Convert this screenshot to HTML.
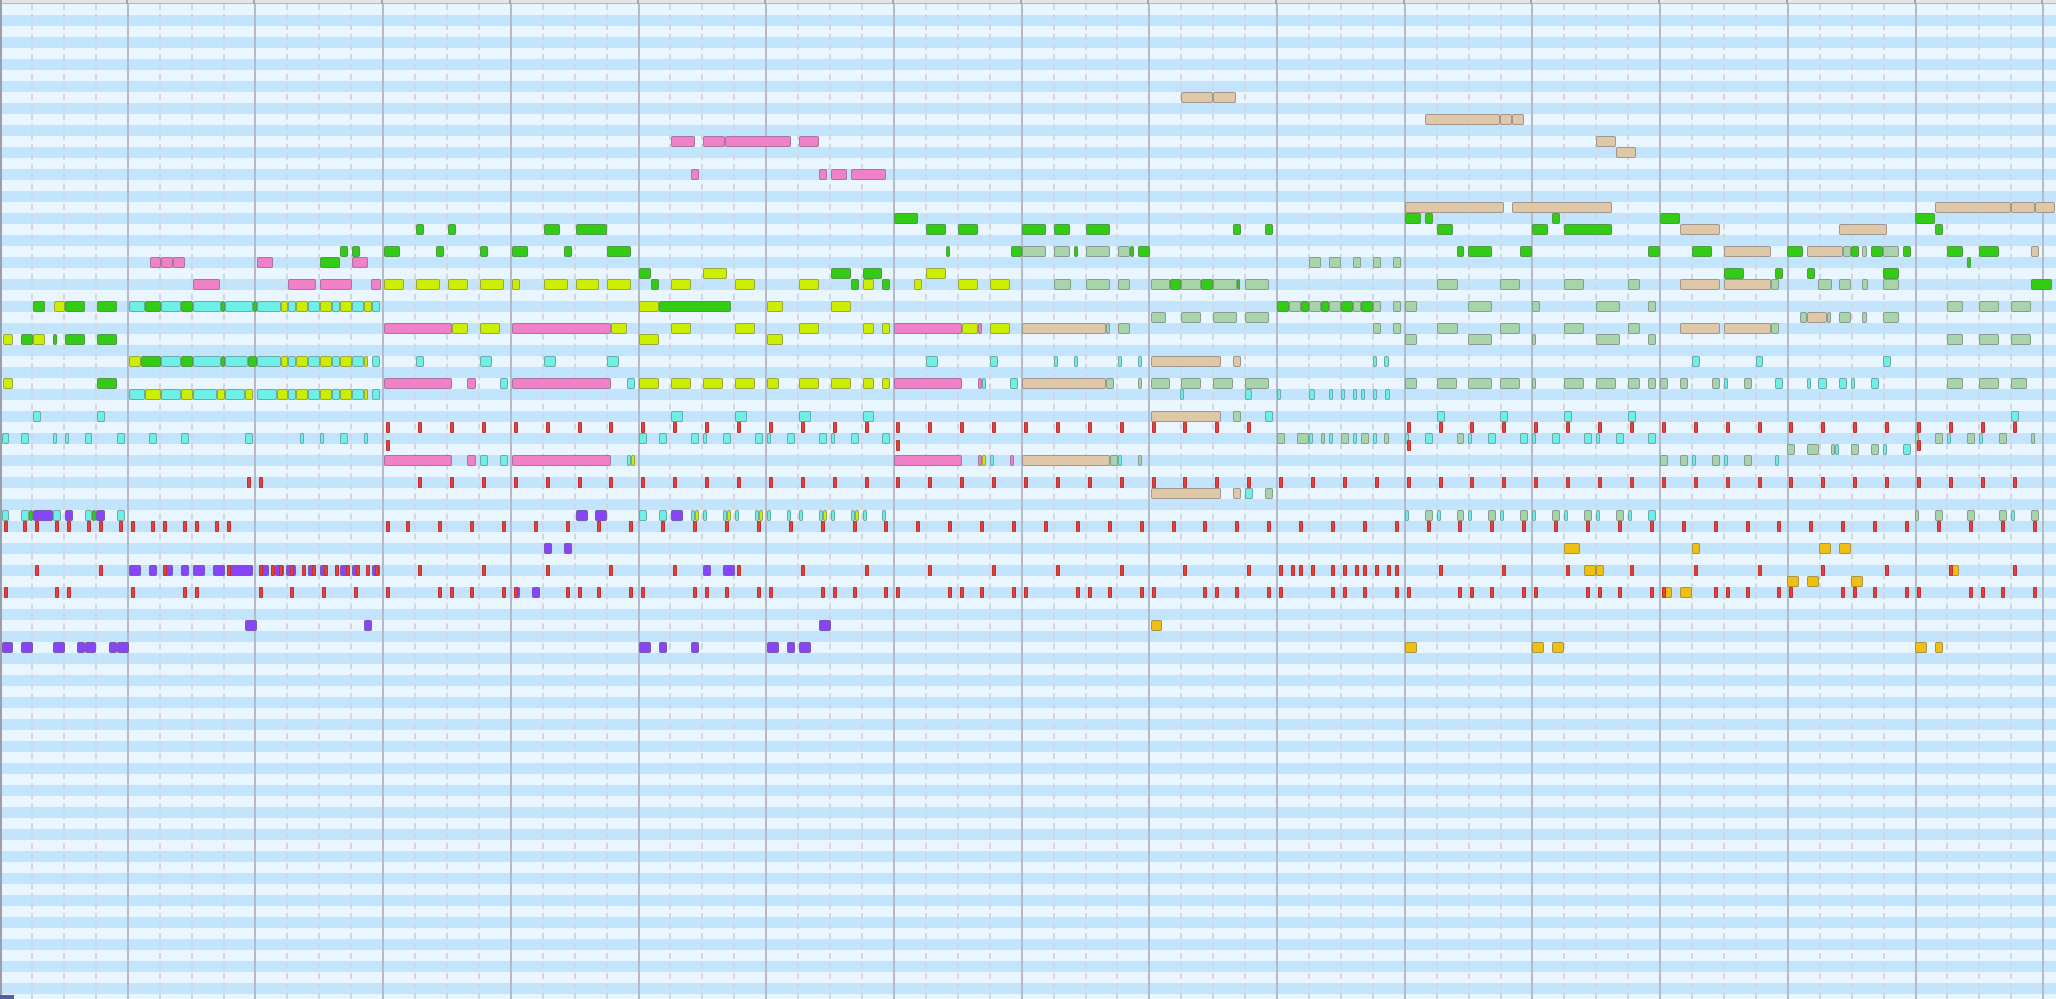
<!DOCTYPE html>
<html><head><meta charset="utf-8"><style>
html,body{margin:0;padding:0;}
body{width:2056px;height:999px;overflow:hidden;position:relative;background:#eaf6ff;font-family:"Liberation Sans",sans-serif;}
#bg{position:absolute;left:0;top:4px;width:2056px;height:995px;
background:repeating-linear-gradient(to bottom,#eaf6ff 0px,#eaf6ff 11px,#c2e4fd 11px,#c2e4fd 22px);}
#hdr{position:absolute;left:0;top:0;width:2056px;height:4px;background:#e4e4e6;border-bottom:1px solid #b8b8c0;box-sizing:border-box;}
.n{position:absolute;box-sizing:border-box;height:11px;border:1px solid rgba(110,110,120,0.55);border-radius:2px;}
.r{position:absolute;box-sizing:border-box;height:11px;width:4px;background:#e84038;border:1px solid rgba(170,40,40,0.6);border-radius:1px;}
.bar{position:absolute;top:4px;width:2px;height:995px;background:#b4bac6;}
.beat{position:absolute;top:4px;width:0;height:995px;border-left:2px dashed #d2d6de;}
.lb{position:absolute;left:0;top:0;width:2px;height:999px;background:#9aa0aa;}
</style></head><body>
<div id="bg"></div>
<div id="grid"></div>
<div id="hdr"></div>
<div class="lb"></div>
<div id="notes"></div>
<script>
(function(){
var g=document.getElementById('grid'),h='';
var M=127.7;
for(var m=0;m<=16;m++){
  var x=m*M;
  if(m>0)h+='<div class="bar" style="left:'+(x-1).toFixed(1)+'px"></div>';
  if(m<16)for(var b=1;b<4;b++){h+='<div class="beat" style="left:'+(x+b*M/4-1).toFixed(1)+'px"></div>';}
}
g.innerHTML=h;
var hd=document.getElementById('hdr'),hh='';
for(var m=1;m<=16;m++){hh+='<div style="position:absolute;top:0;left:'+(m*M-2).toFixed(1)+'px;width:2px;height:4px;background:#a0a4ac"></div>';}
hd.innerHTML=hh;
var C={G:'#33cc14',Y:'#ccee00',C:'#6ef0e6',P:'#f080c8',T:'#dec8a8',S:'#a8d4ac',U:'#8844f8',O:'#f0c010'};
var D=[
"T|8|1181-1213,1213-1236",
"T|10|1425-1500,1500-1512,1512-1524",
"P|12|671-695,703-725,725-791,799-819",
"T|12|1596-1616","T|13|1616-1636",
"P|15|691-699,819-827,831-847,851-886",
"T|18|1405-1504,1512-1612,1935-2011,2011-2035,2035-2055",
"G|19|894-918,1405-1421,1425-1433,1552-1560,1660-1680,1915-1935",
"G|20|416-424,448-456,544-560,576-607,926-946,958-978,1022-1046,1054-1070,1086-1110,1233-1241,1265-1273,1437-1453,1532-1548,1564-1612,1935-1943",
"T|20|1680-1720,1839-1887",
"G|22|340-348,352-360,384-400,436-444,480-488,512-528,564-572,607-631,946-950,1011-1022,1074-1078,1130-1134,1138-1150,1457-1464,1468-1492,1520-1532,1648-1660,1692-1712,1787-1803,1851-1859,1871-1883,1903-1911,1947-1963,1979-1999",
"S|22|1022-1046,1054-1070,1086-1110,1118-1130,1843-1851,1862-1867,1883-1899",
"T|22|1724-1771,1807-1843,2031-2039",
"P|23|150-161,161-173,173-185,257-273,352-368",
"G|23|320-340,1967-1971",
"S|23|1309-1321,1329-1341,1353-1361,1373-1381,1393-1401",
"G|24|639-651,831-851,863-882,1724-1744,1775-1783,1807-1815,1883-1899",
"Y|24|703-727,926-946",
"P|25|193-220,288-316,320-352,371-381",
"Y|25|384-404,416-440,448-468,480-504,512-520,544-568,576-599,607-631,671-691,735-755,799-819,863-874,914-922,958-978,990-1010",
"G|25|651-659,851-859,882-890,1170-1181,1201-1213,1237-1240,2031-2052",
"S|25|1054-1071,1086-1110,1118-1130,1151-1170,1181-1201,1213-1237,1245-1269,1437-1458,1500-1520,1564-1584,1628-1640,1771-1779,1818-1832,1839-1851,1862-1868,1883-1899",
"T|25|1680-1720,1724-1771",
"G|27|33-45,65-85,97-117,145-161,181-193,221-225,253-257,659-731,1277-1289,1301-1309,1321-1329,1341-1353,1361-1373",
"Y|27|54-65,281-288,296-308,320-332,340-352,364-372,639-659,767-783,831-851",
"C|27|129-145,161-181,193-221,225-253,257-281,288-296,308-320,332-340,352-364,372-380",
"S|27|1289-1301,1309-1321,1329-1341,1353-1361,1373-1381,1393-1401,1405-1417,1468-1492,1532-1540,1596-1620,1648-1656,1947-1963,1979-1999,2011-2031",
"S|28|1151-1166,1181-1201,1213-1237,1245-1269,1800-1807,1827-1831,1839-1851,1862-1867,1883-1899",
"T|28|1807-1827",
"P|29|384-452,512-611,894-962,978-982",
"Y|29|452-468,480-500,611-627,671-691,735-755,799-819,863-874,882-890,962-978,990-1010",
"T|29|1022-1106,1680-1720,1724-1771",
"S|29|1106-1110,1118-1130,1373-1381,1393-1401,1437-1458,1500-1520,1564-1584,1628-1640,1771-1779",
"Y|30|3-13,33-45,639-659,767-783",
"G|30|21-33,53-57,65-85,97-117",
"S|30|1405-1417,1468-1492,1532-1536,1596-1620,1648-1656,1947-1963,1979-1999,2011-2031",
"Y|32|129-141,281-288,296-308,320-332,340-352,364-368",
"G|32|141-161,181-193,221-225,248-257",
"C|32|161-181,193-221,225-248,257-281,288-296,308-320,332-340,352-364,372-380,416-424,480-492,544-556,607-619,926-938,990-998,1054-1058,1074-1078,1118-1122,1138-1142,1373-1377,1384-1389,1692-1700,1756-1763,1883-1891",
"T|32|1151-1221,1233-1241",
"Y|34|3-13,639-659,671-691,703-723,735-755,767-779,799-819,831-851,863-874,882-890",
"G|34|97-117",
"P|34|384-452,467-476,512-611,894-962,978-982",
"C|34|500-508,627-635,982-986,1010-1018,1724-1728,1775-1783,1807-1811,1818-1827,1839-1847,1851-1855,1871-1879",
"T|34|1022-1106",
"S|34|1106-1114,1138-1142,1151-1170,1181-1201,1213-1233,1245-1269,1405-1417,1437-1457,1468-1492,1500-1520,1532-1536,1564-1584,1596-1616,1628-1640,1648-1656,1660-1668,1680-1688,1712-1720,1744-1752,1947-1963,1979-1999,2011-2027",
"C|35|129-145,161-181,193-217,225-245,257-277,288-296,308-320,332-340,352-364,372-380,1180-1184,1245-1252,1277-1281,1309-1315,1329-1333,1341-1345,1353-1357,1361-1365,1373-1377,1385-1390",
"Y|35|145-161,181-193,217-225,245-253,277-288,296-308,320-332,340-352,364-368",
"C|37|33-41,97-105,671-683,735-747,799-811,863-874,1265-1273,1437-1445,1500-1508,1564-1572,1628-1636,2011-2019",
"T|37|1151-1221","S|37|1233-1241",
"C|39|2-9,21-29,53-57,65-69,85-92,117-125,149-157,181-189,245-253,300-304,320-324,340-348,364-368,639-647,659-667,691-699,703-707,723-731,755-763,767-771,787-795,819-827,831-835,851-859,882-890,1309-1313,1329-1333,1353-1357,1373-1377,1405-1409,1425-1433,1468-1472,1488-1496,1520-1528,1532-1536,1552-1560,1584-1592,1596-1600,1616-1624,1648-1656,1947-1951,1979-1983",
"S|39|1277-1285,1297-1309,1321-1325,1341-1349,1361-1369,1384-1389,1457-1464,1915-1919,1935-1943,1967-1975,1999-2007,2031-2035",
"S|40|1787-1795,1807-1819,1831-1835,1851-1859,1871-1879",
"C|40|1835-1839,1883-1887,1903-1911",
"P|41|384-452,467-476,512-611,894-962,978-982,1010-1014",
"C|41|480-488,500-508,627-631,990-994,1118-1122,1692-1696,1724-1728,1775-1779",
"Y|41|631-635,982-986",
"T|41|1022-1110",
"S|41|1110-1118,1138-1142,1660-1668,1680-1688,1712-1720,1744-1752",
"T|44|1151-1221,1233-1241","C|44|1245-1253","S|44|1265-1273",
"C|46|2-9,21-29,53-61,85-92,117-125,639-647,659-667,691-695,703-707,723-727,735-739,755-759,767-771,787-791,799-803,819-823,831-835,851-855,863-867,882-886,1405-1409,1437-1441,1468-1472,1500-1504,1532-1536,1564-1568,1596-1600,1628-1632,1648-1656,2011-2015",
"G|46|29-33,92-96",
"U|46|33-53,65-73,96-105,576-588,595-607,671-683",
"Y|46|695-699,727-731,759-763,823-827,855-859",
"S|46|1425-1433,1457-1464,1488-1496,1520-1528,1552-1560,1584-1592,1616-1624,1915-1919,1935-1943,1967-1975,1999-2007,2031-2039",
"U|49|544-552,564-572",
"O|49|1564-1580,1692-1700,1819-1831,1839-1851",
"U|51|129-141,149-157,165-173,181-189,193-205,213-225,229-253,260-269,275-284,286-296,308-316,320-328,340-348,352-360,372-380,703-711,723-735",
"O|51|1584-1596,1596-1604,1951-1959",
"O|52|1787-1799,1807-1819,1851-1863",
"U|53|515-520,532-540",
"O|53|1664-1672,1680-1692",
"U|56|245-257,364-372,819-831",
"O|56|1151-1162",
"U|58|2-13,21-33,53-65,77-85,85-96,109-117,117-129,639-651,659-667,691-699,767-779,787-795,799-811",
"O|58|1405-1417,1532-1544,1552-1564,1915-1927,1935-1943"
];
var R={
38:"386,418,450,482,514,546,578,609,641,673,705,737,769,801,833,865,896,928,960,992,1024,1056,1088,1120,1152,1183,1215,1247,1407,1439,1470,1502,1534,1566,1598,1630,1662,1694,1726,1758,1789,1821,1853,1885,1917,1949,1981,2013",
40:"386,896,1407,1917",
43:"247,259,418,450,482,514,546,578,609,641,673,705,737,769,801,833,865,896,928,960,992,1024,1056,1088,1120,1152,1183,1215,1247,1279,1311,1343,1375,1407,1439,1470,1502,1534,1566,1598,1630,1662,1694,1726,1758,1789,1821,1853,1885,1917,1949,1981,2013",
47:"4,23,35,55,67,87,99,119,131,151,163,183,195,215,227,386,406,438,470,502,534,566,597,629,661,693,725,757,789,821,853,884,916,948,980,1012,1044,1076,1108,1140,1172,1203,1235,1267,1299,1331,1363,1395,1427,1458,1490,1522,1554,1586,1618,1650,1682,1714,1746,1777,1809,1841,1873,1905,1937,1969,2001,2033",
51:"35,99,163,227,259,271,279,290,302,312,324,335,346,356,366,375,418,482,546,609,673,737,801,865,928,992,1056,1120,1183,1247,1279,1291,1299,1311,1331,1343,1355,1363,1375,1387,1395,1439,1502,1566,1630,1694,1758,1821,1885,1949,2013",
53:"4,55,67,131,183,195,259,290,322,354,386,438,450,470,502,514,566,578,597,629,641,693,705,725,757,769,821,833,853,884,896,948,960,980,1012,1024,1076,1088,1108,1140,1152,1203,1215,1235,1267,1279,1331,1343,1363,1395,1407,1458,1470,1490,1522,1534,1586,1598,1618,1650,1662,1714,1726,1746,1777,1789,1841,1853,1873,1905,1917,1969,1981,2001,2033"
};
var out='';
D.forEach(function(s){
  var p=s.split('|'),col=C[p[0]],top=4+11*(+p[1]);
  p[2].split(',').forEach(function(r){
    var a=r.split('-'),x1=+a[0],x2=+a[1];
    out+='<div class="n" style="left:'+x1+'px;top:'+top+'px;width:'+Math.max(3,x2-x1)+'px;background:'+col+'"></div>';
  });
});
for(var k in R){
  var top=4+11*(+k);
  R[k].split(',').forEach(function(x){
    out+='<div class="r" style="left:'+(+x)+'px;top:'+(k==40?top-4:top)+'px"></div>';
  });
}
out+='<div style="position:absolute;left:0;top:995px;width:14px;height:4px;background:#5060a0"></div>';
document.getElementById('notes').innerHTML=out;
})();
</script>
</body></html>
